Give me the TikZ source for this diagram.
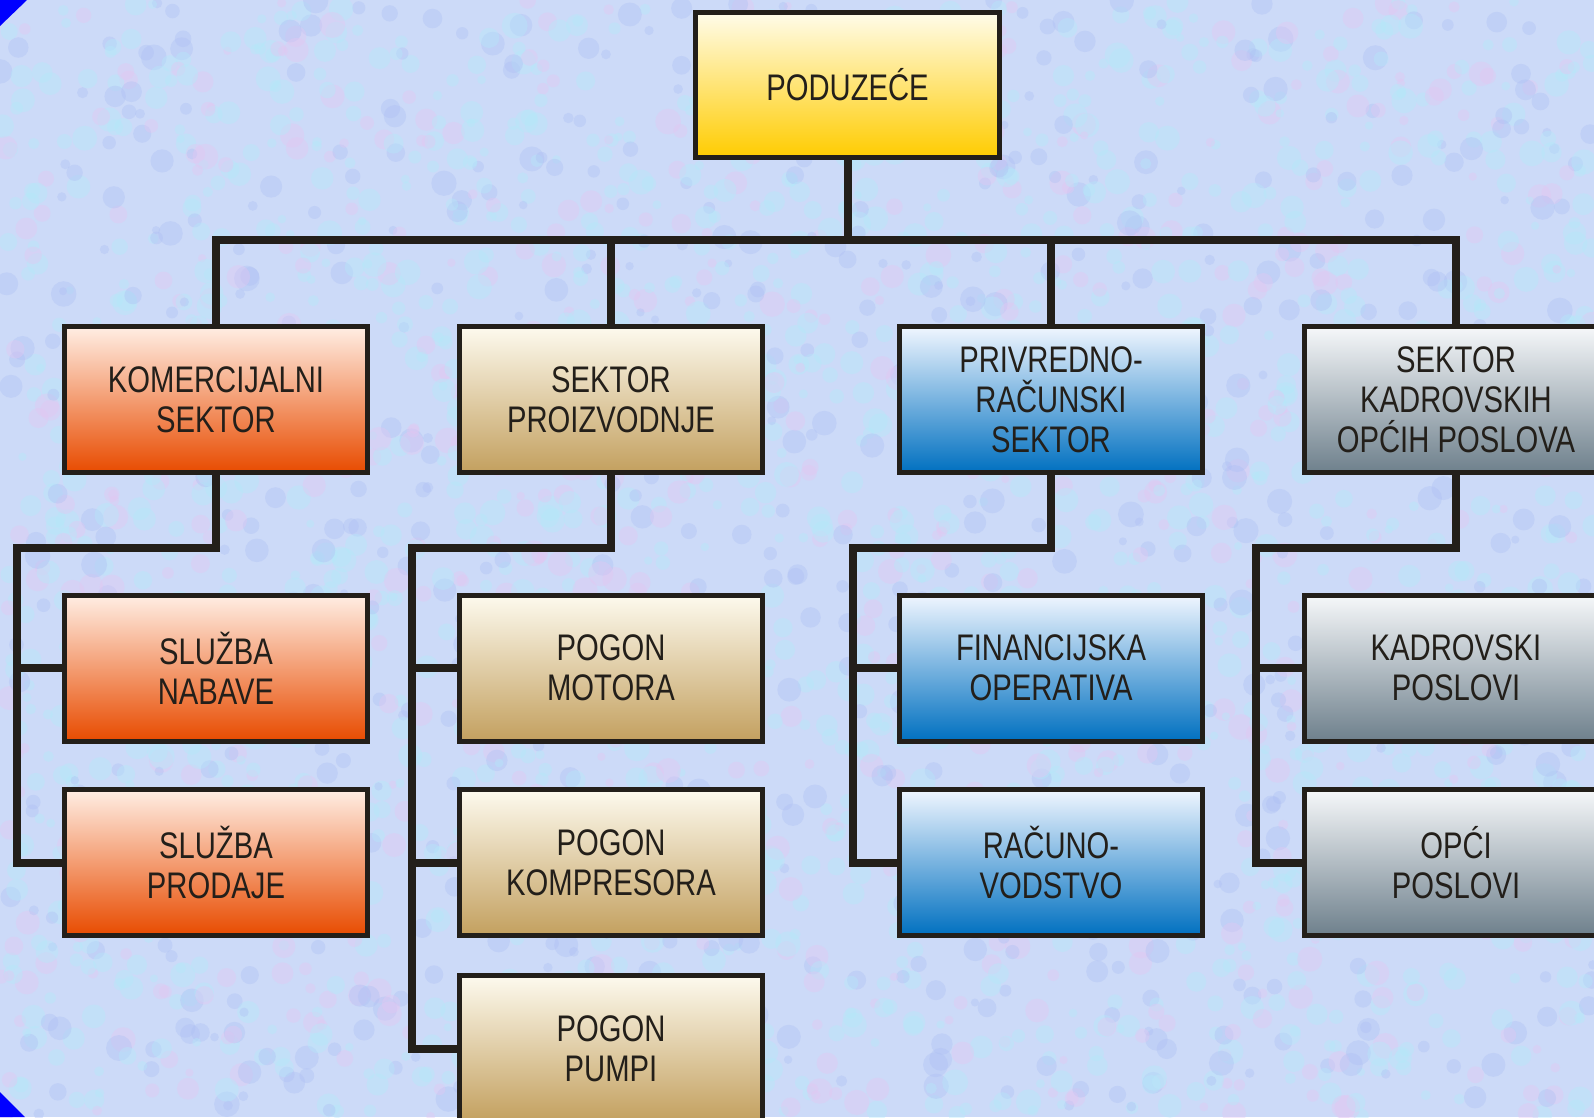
\documentclass[tikz,border=0pt]{standalone}
\usepackage{fontspec}
\setmainfont[FakeStretch=0.79]{Liberation Sans}
\definecolor{ink}{RGB}{35,31,26}
\definecolor{paper}{RGB}{204,218,248}
\definecolor{mottleA}{RGB}{228,198,242}
\definecolor{mottleB}{RGB}{180,234,250}
\definecolor{mottleC}{RGB}{174,192,244}
\definecolor{cornerblue}{RGB}{0,0,255}
\definecolor{yTop}{RGB}{255,252,234}
\definecolor{yMid}{RGB}{252,228,130}
\definecolor{yBot}{RGB}{255,204,0}
\definecolor{oTop}{RGB}{255,238,228}
\definecolor{oMid}{RGB}{243,142,98}
\definecolor{oBot}{RGB}{232,75,0}
\definecolor{tTop}{RGB}{253,250,238}
\definecolor{tMid}{RGB}{228,207,158}
\definecolor{tBot}{RGB}{195,160,95}
\definecolor{bTop}{RGB}{240,246,255}
\definecolor{bMid}{RGB}{62,152,222}
\definecolor{bBot}{RGB}{0,112,192}
\definecolor{gTop}{RGB}{246,248,250}
\definecolor{gMid}{RGB}{166,179,189}
\definecolor{gBot}{RGB}{110,128,140}
\begin{document}
\begin{tikzpicture}[x=1pt,y=-1pt,
  box/.style={draw=ink,line width=5pt,minimum width=303pt,minimum height=146pt,
    inner sep=0pt,align=center,text=ink,font=\fontsize{37}{40}\selectfont},
  yel/.style={top color=yTop,middle color=yMid,bottom color=yBot},
  ora/.style={top color=oTop,middle color=oMid,bottom color=oBot},
  tan/.style={top color=tTop,middle color=tMid,bottom color=tBot},
  blu/.style={top color=bTop,middle color=bMid,bottom color=bBot},
  gry/.style={top color=gTop,middle color=gMid,bottom color=gBot},
  conn/.style={draw=ink,line width=8pt,line join=miter}]

\useasboundingbox (0,0) rectangle (1594,1117);
\clip (0,0) rectangle (1594,1117);

% mottled paper
\fill[paper] (0,0) rectangle (1594,1117);
\pgfmathsetseed{11}
\foreach \i in {1,...,3000}{
  \pgfmathsetmacro\px{rnd*1594}
  \pgfmathsetmacro\py{rnd*1117}
  \pgfmathsetmacro\pr{4+rnd*9}
  \pgfmathtruncatemacro\pc{int(rnd*4)}
  \ifcase\pc
    \fill[mottleA,opacity=0.38] (\px,\py) circle (\pr);
  \or
    \fill[mottleB,opacity=0.38] (\px,\py) circle (\pr);
  \or
    \fill[mottleB,opacity=0.38] (\px,\py) circle (\pr);
  \else
    \fill[mottleC,opacity=0.38] (\px,\py) circle (\pr);
  \fi
}

% corner marks
\fill[cornerblue] (0,0) -- (27,0) -- (0,26) -- cycle;
\fill[cornerblue] (0,1092) -- (25,1117) -- (0,1117) -- cycle;

% bends of the connector lines
\coordinate (bar) at (0,240);
\coordinate (v1) at (16.5,548);
\coordinate (v2) at (412,548);
\coordinate (v3) at (852.5,548);
\coordinate (v4) at (1255.5,548);

% top
\node[box,yel,minimum width=304pt,minimum height=145pt] (top) at (847.5,85) {PODUZEĆE};

% sectors
\node[box,ora] (k) at (216,399.5) {KOMERCIJALNI\\SEKTOR};
\node[box,tan] (p) at (611,399.5) {SEKTOR\\PROIZVODNJE};
\node[box,blu] (r) at (1051,399.5) {PRIVREDNO-\\RAČUNSKI\\SEKTOR};
\node[box,gry] (g) at (1456,399.5) {SEKTOR\\KADROVSKIH\\OPĆIH POSLOVA};

% departments
\node[box,ora] (s1) at (216,668) {SLUŽBA\\NABAVE};
\node[box,ora] (s2) at (216,862.5) {SLUŽBA\\PRODAJE};
\node[box,tan] (m1) at (611,668) {POGON\\MOTORA};
\node[box,tan] (m2) at (611,862.5) {POGON\\KOMPRESORA};
\node[box,tan] (m3) at (611,1048.5) {POGON\\PUMPI};
\node[box,blu] (f1) at (1051,668) {FINANCIJSKA\\OPERATIVA};
\node[box,blu] (f2) at (1051,862.5) {RAČUNO-\\VODSTVO};
\node[box,gry] (h1) at (1456,668) {KADROVSKI\\POSLOVI};
\node[box,gry] (h2) at (1456,862.5) {OPĆI\\POSLOVI};

% top level connectors
\draw[conn] (top.south) -- (top.south |- bar);
\draw[conn] (k.north) |- (g.north |- bar) -- (g.north);
\draw[conn] (p.north) -- (p.north |- bar);
\draw[conn] (r.north) -- (r.north |- bar);

% sector connectors
\draw[conn] (k.south) |- (v1) |- (s2.west);
\draw[conn] (s1.west) -- (s1.west -| v1);

\draw[conn] (p.south) |- (v2) |- (m3.west);
\draw[conn] (m1.west) -- (m1.west -| v2);
\draw[conn] (m2.west) -- (m2.west -| v2);

\draw[conn] (r.south) |- (v3) |- (f2.west);
\draw[conn] (f1.west) -- (f1.west -| v3);

\draw[conn] (g.south) |- (v4) |- (h2.west);
\draw[conn] (h1.west) -- (h1.west -| v4);
\end{tikzpicture}
\end{document}
